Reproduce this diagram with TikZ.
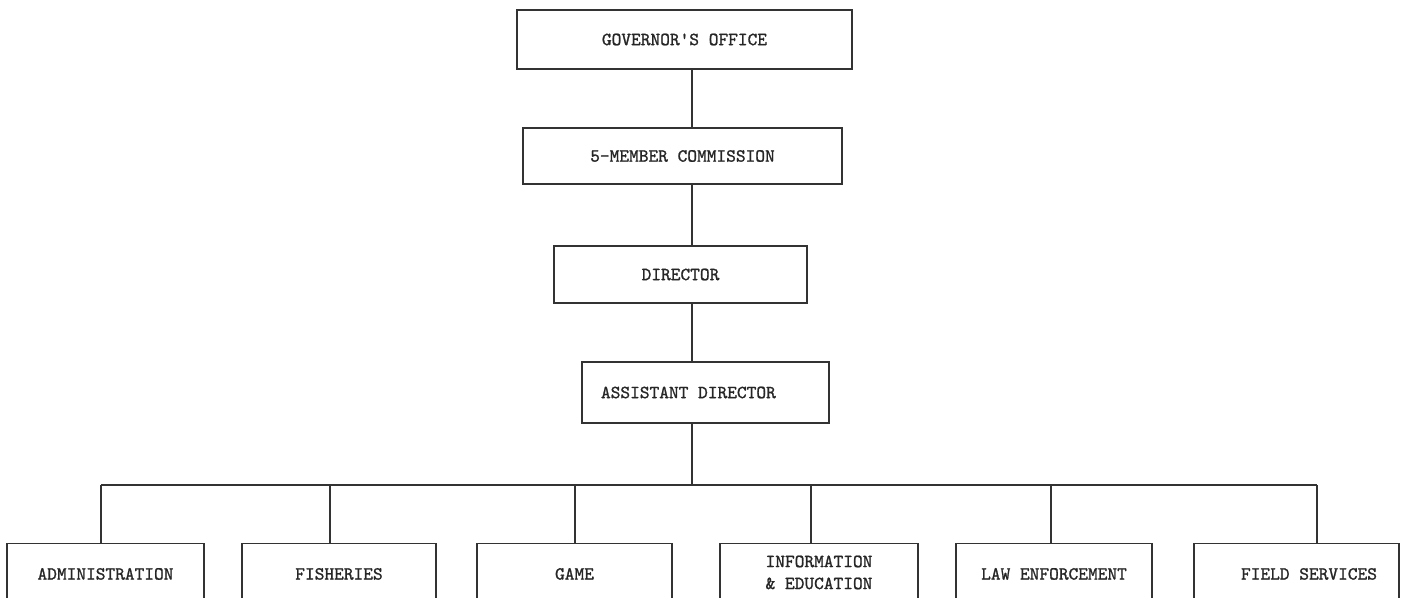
\documentclass[tikz,border=0pt]{standalone}
\usepackage{tikz}
\usepackage{fontspec}
\newfontfamily\typefont{lmmono10-regular.otf}[BoldFont=lmmono10-regular.otf, BoldFeatures={FakeBold=1.2}]

\tikzset{
	unit/.style={rectangle, draw=black!80, line width=1.2pt, inner sep=0pt,
		font=\typefont\bfseries\fontsize{18.5}{22}\selectfont, text=black!85},
	branch/.style={unit, anchor=north, text height=36pt, text depth=41pt},
	link/.style={draw=black!80, line width=1.2pt}
}

\begin{document}
\begin{tikzpicture}
	[x=1pt,y=-1pt]
	\useasboundingbox (0,0) rectangle (1405,597);
	% upper chain
	\node[unit, minimum width=335pt, minimum height=59pt] (gov) at (684.5,39.5) {GOVERNOR\textquotesingle S OFFICE};
	\node[unit, minimum width=319pt, minimum height=56pt] (comm) at (682.5,156) {5-MEMBER COMMISSION};
	\node[unit, minimum width=253pt, minimum height=57pt] (dir) at (680.5,274.5) {DIRECTOR};
	\node[unit, minimum height=61pt, inner xsep=19pt] (asst) at (705.5,392.5) {\makebox[209pt][l]{ASSISTANT DIRECTOR}};
	
	% divisions
	\node[branch, minimum width=197pt] (adm) at (105.5,543) {ADMINISTRATION};
	\node[branch, minimum width=194pt] (fish) at (339,543) {FISHERIES};
	\node[branch, minimum width=195pt] (game) at (574.5,543) {GAME};
	\node[branch, minimum width=198pt, align=center, text height=45.5pt, text depth=31.5pt] (info) at (819,543) {INFORMATION\\\& EDUCATION};
	\node[branch, minimum width=196pt] (law) at (1054,543) {LAW ENFORCEMENT};
	\node[branch, inner xsep=22pt] (field) at (1296.5,543) {\makebox[161pt][r]{FIELD SERVICES}};
	
	\coordinate (spine) at (692,0);
	\coordinate (busL) at (101,485);
	\coordinate (busR) at (1317,485);
	
	\foreach \from/\to in {gov/comm,comm/dir,dir/asst}
		\draw[link] (\from.south -| spine) -- (\to.north -| spine);
	\draw[link] (asst.south -| spine) -- (spine |- busL);
	\draw[link] (busL) -- (busR);
	\foreach \name/\sx in {adm/101,fish/330,game/575,info/811,law/1051,field/1317}
		\draw[link] (busL -| \sx,0) -- (\name.north -| \sx,0);
\end{tikzpicture}
\end{document}
